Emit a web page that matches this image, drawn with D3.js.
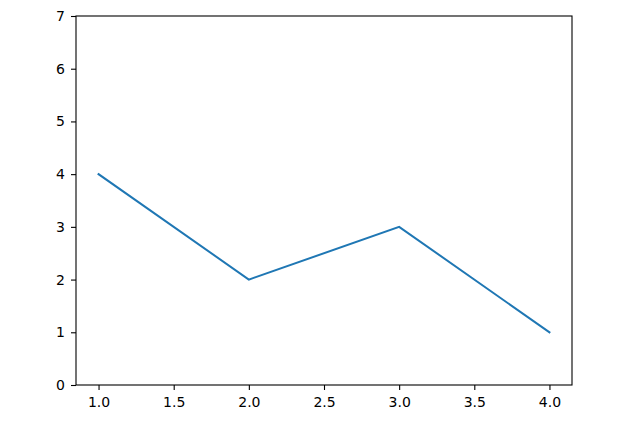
<!DOCTYPE html>
<html><head><meta charset="utf-8">
<script src="https://cdn.jsdelivr.net/npm/d3@7"></script>
<style>body{margin:0;background:#fff}svg{display:block}</style>
</head><body><svg width="637" height="425"></svg>
<script>
const xValues = [1, 2, 3, 4];
const yValues = [4, 2, 3, 1];
const xTicks = [1.0, 1.5, 2.0, 2.5, 3.0, 3.5, 4.0];
const yTicks = [0, 1, 2, 3, 4, 5, 6, 7];

(function(){
const svg = d3.select("svg");
const mLeft = 76, mRight = 572, mTop = 16, mBottom = 385;
const x = d3.scaleLinear().domain([0.85, 4.15]).range([mLeft, mRight]);
const y = d3.scaleLinear().domain([0, 7]).range([mBottom, mTop]);

svg.append("rect").attr("x", mLeft).attr("y", mTop).attr("width", mRight-mLeft).attr("height", mBottom-mTop)
  .attr("fill", "none").attr("stroke", "#000").attr("stroke-width", 1.1);

const xa = svg.append("g").attr("transform", `translate(0,${mBottom})`)
  .call(d3.axisBottom(x).tickValues(xTicks).tickFormat(d3.format(".1f")).tickSize(5).tickPadding(7));
const ya = svg.append("g").attr("transform", `translate(${mLeft},0)`)
  .call(d3.axisLeft(y).tickValues(yTicks).tickFormat(d3.format("d")).tickSize(5).tickPadding(6));
[xa, ya].forEach(a => {
  a.select(".domain").remove();
  a.selectAll("line").attr("stroke", "#000").attr("stroke-width", 1.1);
  a.selectAll("text").style("font-family", "'DejaVu Sans'").style("font-size", "14px").attr("fill", "#000");
});

const line = d3.line().x((d, i) => x(xValues[i])).y(d => y(d));
svg.append("path").datum(yValues).attr("d", line).attr("fill", "none")
  .attr("stroke", "#1f77b4").attr("stroke-width", 2).attr("stroke-linecap", "square");
})();
</script></body></html>
